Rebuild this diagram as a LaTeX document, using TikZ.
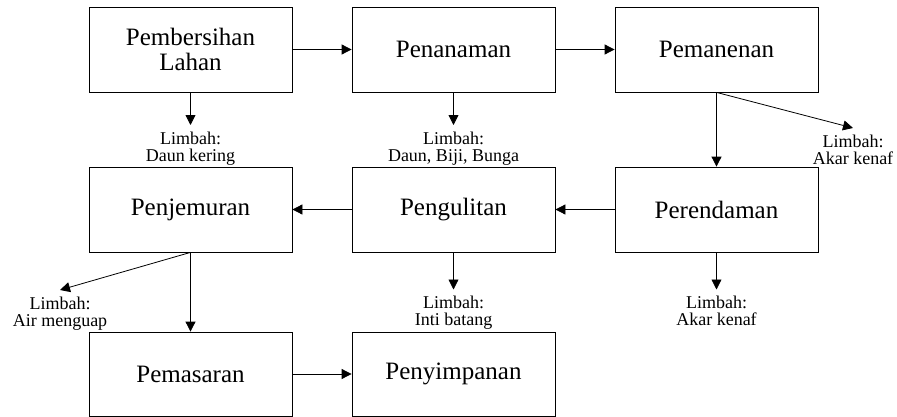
\documentclass[tikz,border=0pt]{standalone}
\usepackage{fontspec}
\setmainfont{Liberation Serif}
\usetikzlibrary{arrows.meta,positioning}

\begin{document}
\begin{tikzpicture}[x=1pt,y=1pt,
  proses/.style={draw,line width=0.8pt,minimum width=203pt,minimum height=85pt,
    font=\fontsize{25}{25}\selectfont,align=center},
  limbah/.style={anchor=north,inner sep=0pt,outer ysep=7pt,
    font=\fontsize{18}{17}\selectfont,align=center},
  panah/.style={line width=0.8pt,-{Triangle[length=10pt,width=10pt]}}]
  \useasboundingbox (0,0) rectangle (897,416);
  % proses utama
  \node[proses] (bersih) at (190.5,366.5) {Pembersihan\\Lahan};
  \node[proses] (tanam)  at (453.5,366.5) {Penanaman};
  \node[proses] (panen)  at (716.5,366.5) {Pemanenan};
  \node[proses] (jemur)  at (190.5,206.5) {Penjemuran};
  \node[proses] (kulit)  at (453.5,206.5) {Pengulitan};
  \node[proses] (rendam) at (716.5,206.5) {Perendaman};
  \node[proses,minimum height=84pt] (pasar)  at (190.5,42) {Pemasaran};
  \node[proses,minimum height=84pt] (simpan) at (453.5,42) {Penyimpanan};
  % limbah
  \node[limbah] (lbersih) at (190.5,291) {Limbah:\\Daun kering};
  \node[limbah] (ltanam)  at (453.5,291) {Limbah:\\Daun, Biji, Bunga};
  \node[limbah] (lpanen)  at (853,288)   {Limbah:\\Akar kenaf};
  \node[limbah] (ljemur)  at (60,126)    {Limbah:\\Air menguap};
  \node[limbah] (lkulit)  at (453.5,126.5) {Limbah:\\Inti batang};
  \node[limbah] (lrendam) at (716.5,126.5) {Limbah:\\Akar kenaf};
  % alur
  \draw[panah] (bersih) -- (tanam);
  \draw[panah] (tanam) -- (panen);
  \draw[panah] (panen) -- (rendam);
  \draw[panah] (rendam) -- (kulit);
  \draw[panah] (kulit) -- (jemur);
  \draw[panah] (jemur) -- (pasar);
  \draw[panah] (pasar) -- (simpan);
  \draw[panah] (bersih.south) -- (lbersih.north);
  \draw[panah] (tanam.south) -- (ltanam.north);
  \draw[panah] (panen.south) -- (lpanen.north);
  \draw[panah] (jemur.south) -- (ljemur.north);
  \draw[panah] (kulit.south) -- (lkulit.north);
  \draw[panah] (rendam.south) -- (lrendam.north);
\end{tikzpicture}
\end{document}
